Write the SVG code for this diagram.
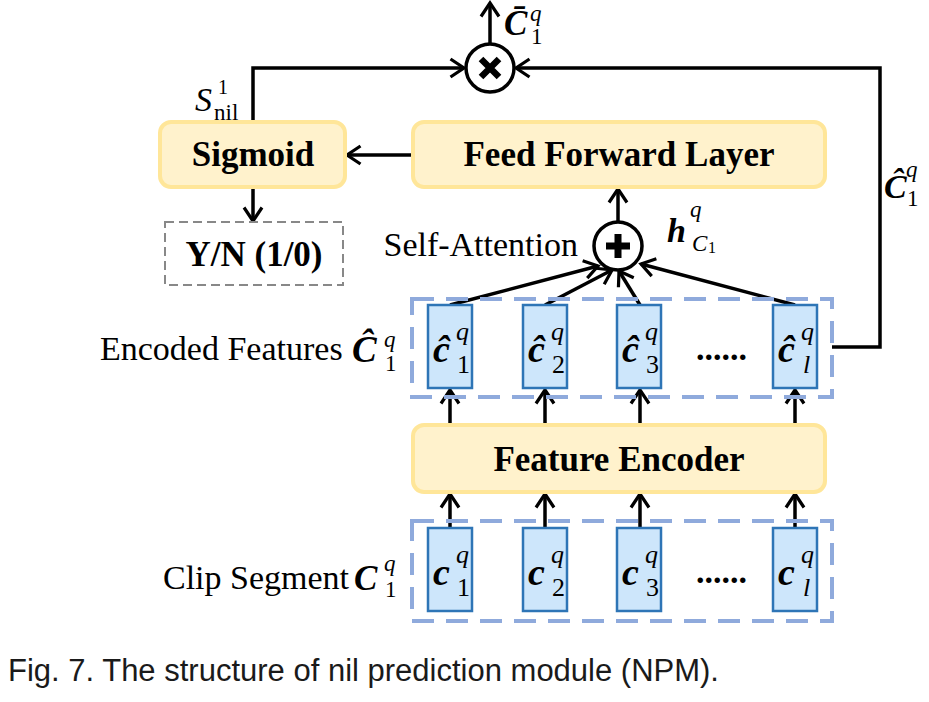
<svg xmlns="http://www.w3.org/2000/svg" width="929" height="702" viewBox="0 0 929 702">
<defs>
<marker id="ah" markerUnits="userSpaceOnUse" markerWidth="18" markerHeight="22" refX="15" refY="11" orient="auto">
<path d="M1.5,2 L15,11 L1.5,20" fill="none" stroke="#000" stroke-width="3.2"/>
</marker>
<style>
.yb{fill:#FFF2CC;stroke:#FFE699;stroke-width:4}
.bt{font-family:"Liberation Serif","Times New Roman",serif;font-weight:bold;font-size:35px;text-anchor:middle;fill:#000}
.rt{font-family:"Liberation Serif","Times New Roman",serif;font-size:34px;fill:#000}
.cell{fill:#CDE6FB;stroke:#2E75B6;stroke-width:2.5}
.grp{fill:none;stroke:#8FAADC;stroke-width:4;stroke-dasharray:22 12}
.ar{fill:none;stroke:#000;stroke-width:3.5;marker-end:url(#ah)}
.mb{font-family:"Liberation Serif","DejaVu Serif",serif;font-weight:bold;font-style:italic;fill:#000}
.mi{font-family:"Liberation Serif","DejaVu Serif",serif;font-style:italic;fill:#000}
.mr{font-family:"Liberation Serif","DejaVu Serif",serif;fill:#000}
</style>
</defs>
<rect width="929" height="702" fill="#fff"/>

<g id="connectors">
<path class="ar" d="M253,120 V68 H464"/>
<path class="ar" d="M832,347 H880 V68 H516"/>
<path class="ar" d="M490,44 V3"/>
<path class="ar" d="M413,155 H347"/>
<path class="ar" d="M253,188 V221"/>
<path class="ar" d="M618,222 V189"/>
<path class="ar" d="M450,305 L598,266"/>
<path class="ar" d="M545,305 L612,270"/>
<path class="ar" d="M640,305 L619,271"/>
<path class="ar" d="M795,305 L641,264"/>
<path class="ar" d="M450,425 V390"/>
<path class="ar" d="M545,425 V390"/>
<path class="ar" d="M640,425 V390"/>
<path class="ar" d="M795,425 V390"/>
<path class="ar" d="M450,528 V494"/>
<path class="ar" d="M545,528 V494"/>
<path class="ar" d="M640,528 V494"/>
<path class="ar" d="M795,528 V494"/>
</g>

<g id="mult">
<circle cx="490" cy="68" r="24" fill="#fff" stroke="#000" stroke-width="3.5"/>
<path d="M481,59 L499,77 M499,59 L481,77" stroke="#000" stroke-width="6.5"/>
<text class="mb" x="504" y="35" font-size="35">C̄</text>
<text class="mi" x="530" y="21" font-size="23">q</text>
<text class="mr" x="531" y="44" font-size="23">1</text>
</g>

<g id="snil-label">
<text class="mi" x="195" y="111" font-size="34">S</text>
<text class="mr" x="218" y="94" font-size="20">1</text>
<text class="mr" x="214" y="120" font-size="23">nil</text>
</g>

<g id="sigmoid">
<rect class="yb" x="160" y="122" width="185" height="65" rx="11"/>
<text class="bt" x="253" y="166">Sigmoid</text>
</g>

<g id="ffl">
<rect class="yb" x="413" y="122" width="412" height="65" rx="11"/>
<text class="bt" x="619" y="166" font-size="36">Feed Forward Layer</text>
</g>

<g id="yn">
<rect x="165" y="222" width="178" height="63" fill="#fff" stroke="#888" stroke-width="2" stroke-dasharray="9 5"/>
<text class="bt" x="254" y="266">Y/N (1/0)</text>
</g>

<g id="ctop-label">
<text class="mb" x="884" y="198" font-size="34">Ĉ</text>
<text class="mi" x="906" y="177" font-size="23">q</text>
<text class="mr" x="907" y="206" font-size="23">1</text>
</g>

<g id="plus">
<circle cx="618" cy="246" r="24" fill="#fff" stroke="#000" stroke-width="3.5"/>
<path d="M618,234 V258 M606,246 H630" stroke="#000" stroke-width="7"/>
<text class="rt" x="578" y="256" font-size="26" text-anchor="end">Self-Attention</text>
<text class="mb" x="667" y="242" font-size="34">h</text>
<text class="mi" x="690" y="217" font-size="23">q</text>
<text class="mi" x="692" y="251" font-size="23">C</text>
<text class="mr" x="708" y="253" font-size="16">1</text>
</g>

<g id="encoded">
<rect class="grp" x="412" y="299" width="420" height="98"/>
<text class="rt" x="100" y="360">Encoded Features</text>
<text class="mb" x="352" y="362" font-size="37">Ĉ</text>
<text class="mi" x="384" y="347" font-size="23">q</text>
<text class="mr" x="385" y="371" font-size="23">1</text>
<rect class="cell" x="428" y="305" width="44" height="83"/>
<text class="mb" x="433" y="362" font-size="38">ĉ</text>
<text class="mi" x="456" y="340" font-size="26">q</text>
<text class="mr" x="457" y="373" font-size="26">1</text>
<rect class="cell" x="523" y="305" width="44" height="83"/>
<text class="mb" x="528" y="362" font-size="38">ĉ</text>
<text class="mi" x="551" y="340" font-size="26">q</text>
<text class="mr" x="552" y="373" font-size="26">2</text>
<rect class="cell" x="617" y="305" width="44" height="83"/>
<text class="mb" x="622" y="362" font-size="38">ĉ</text>
<text class="mi" x="645" y="340" font-size="26">q</text>
<text class="mr" x="646" y="373" font-size="26">3</text>
<text class="rt" x="696" y="360" font-weight="bold" font-size="38">......</text>
<rect class="cell" x="773" y="305" width="44" height="83"/>
<text class="mb" x="778" y="362" font-size="38">ĉ</text>
<text class="mi" x="801" y="340" font-size="26">q</text>
<text class="mi" x="803" y="373" font-size="26">l</text>
</g>

<g id="feature-encoder">
<rect class="yb" x="413" y="425" width="412" height="67" rx="11"/>
<text class="bt" x="619" y="471">Feature Encoder</text>
</g>

<g id="clip">
<rect class="grp" x="412" y="521" width="420" height="100"/>
<text class="rt" x="163" y="589">Clip Segment</text>
<text class="mb" x="354" y="590" font-size="35">C</text>
<text class="mi" x="384" y="571" font-size="23">q</text>
<text class="mr" x="385" y="597" font-size="23">1</text>
<rect class="cell" x="428" y="528" width="44" height="83"/>
<text class="mb" x="433" y="585" font-size="38">c</text>
<text class="mi" x="456" y="563" font-size="26">q</text>
<text class="mr" x="457" y="596" font-size="26">1</text>
<rect class="cell" x="523" y="528" width="44" height="83"/>
<text class="mb" x="528" y="585" font-size="38">c</text>
<text class="mi" x="551" y="563" font-size="26">q</text>
<text class="mr" x="552" y="596" font-size="26">2</text>
<rect class="cell" x="617" y="528" width="44" height="83"/>
<text class="mb" x="622" y="585" font-size="38">c</text>
<text class="mi" x="645" y="563" font-size="26">q</text>
<text class="mr" x="646" y="596" font-size="26">3</text>
<text class="rt" x="696" y="583" font-weight="bold" font-size="38">......</text>
<rect class="cell" x="773" y="528" width="44" height="83"/>
<text class="mb" x="778" y="585" font-size="38">c</text>
<text class="mi" x="801" y="563" font-size="26">q</text>
<text class="mi" x="803" y="596" font-size="26">l</text>
</g>

<text x="8" y="681" font-family="'Liberation Sans',Arial,sans-serif" font-size="31" fill="#1a1a1a">Fig. 7. The structure of nil prediction module (NPM).</text>
</svg>
